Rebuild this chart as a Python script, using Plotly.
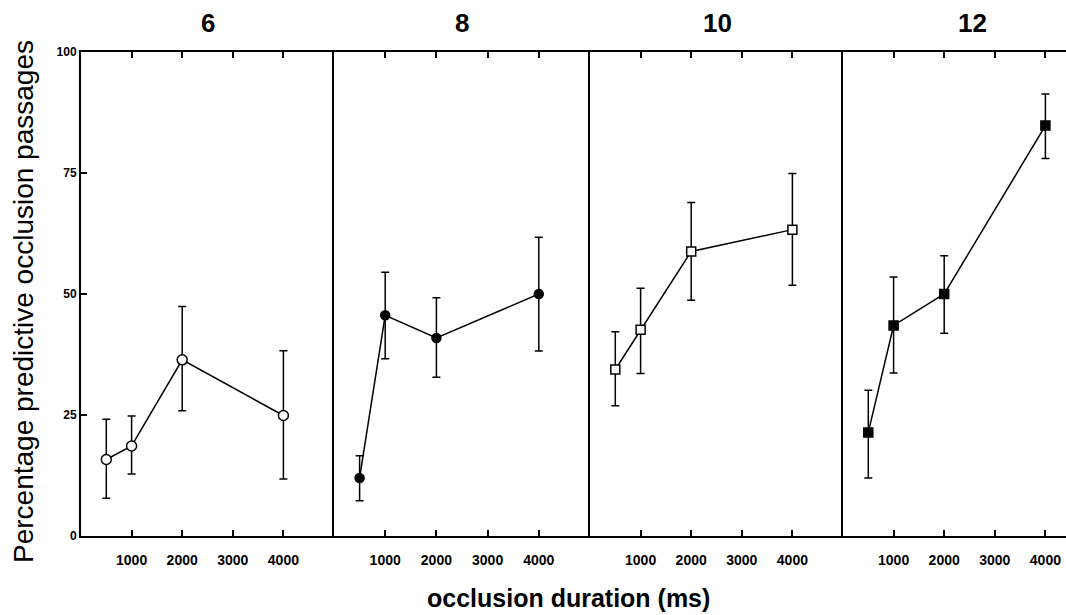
import plotly.graph_objects as go

# ---- data ----
panel_titles = ["6", "8", "10", "12"]
durations = [500, 1000, 2000, 4000]
x_tick_vals = [1000, 2000, 3000, 4000]
x_tick_text = ["1000", "2000", "3000", "4000"]
y_tick_vals = [0, 25, 50, 75, 100]
y_tick_text = ["0", "25", "50", "75", "100"]

mean_6 = [15.8, 18.6, 36.4, 24.9]
hi_6 = [24.1, 24.8, 47.4, 38.3]
lo_6 = [7.8, 12.8, 25.9, 11.8]

mean_8 = [12.0, 45.6, 40.9, 50.0]
hi_8 = [16.6, 54.5, 49.2, 61.7]
lo_8 = [7.3, 36.6, 32.8, 38.2]

mean_10 = [34.4, 42.6, 58.8, 63.3]
hi_10 = [42.2, 51.2, 68.9, 74.9]
lo_10 = [26.9, 33.6, 48.7, 51.8]

mean_12 = [21.4, 43.5, 50.0, 84.8]
hi_12 = [30.1, 53.5, 57.9, 91.3]
lo_12 = [12.0, 33.7, 41.9, 78.0]

series = [
    (mean_6, hi_6, lo_6, "circle", "white", 10),
    (mean_8, hi_8, lo_8, "circle", "black", 9),
    (mean_10, hi_10, lo_10, "square", "white", 9),
    (mean_12, hi_12, lo_12, "square", "black", 9),
]

W, H = 1066, 615
ML, MR, MT, MB = 81, 0, 52, 615 - 536
PW = W - ML - MR
PH = H - MT - MB

# panel pixel edges
edges = [81, 334, 590, 843, 1066]
x_ranges = [[0, 5000], [0, 5000], [0, 5000], [0, 4407]]
title_px = [208, 462, 717, 972]


def px_x(px):
    return (px - ML) / PW


def px_y(py):
    return (536 - py) / PH


FONT = "Arial, Liberation Sans, sans-serif"

fig = go.Figure()
layout = dict(
    width=W, height=H,
    margin=dict(l=ML, r=MR, t=MT, b=MB, pad=0),
    paper_bgcolor="white", plot_bgcolor="white",
    showlegend=False,
    font=dict(family=FONT, color="black"),
)

annotations = []
for i, (m, hi, lo, sym, fill, size) in enumerate(series):
    k = "" if i == 0 else str(i + 1)
    up = [h - v for h, v in zip(hi, m)]
    dn = [v - l for v, l in zip(m, lo)]
    fig.add_trace(go.Scatter(
        x=durations, y=m, mode="lines+markers",
        xaxis="x" + k, yaxis="y" + k,
        line=dict(color="black", width=1.5),
        marker=dict(symbol=sym, size=size, color=fill,
                    line=dict(color="black", width=1.5)),
        error_y=dict(type="data", symmetric=False, array=up, arrayminus=dn,
                     color="black", thickness=1.5, width=4),
        cliponaxis=False,
    ))
    d0 = px_x(edges[i])
    d1 = px_x(edges[i + 1])
    layout["xaxis" + k] = dict(
        domain=[d0, min(d1, 1)], range=x_ranges[i], anchor="y" + k,
        showgrid=False, zeroline=False,
        showline=True, linecolor="black", linewidth=2,
        mirror="ticks", ticks="inside", ticklen=6, tickwidth=1.5,
        tickcolor="black",
        tickvals=x_tick_vals, ticktext=x_tick_text,
        tickfont=dict(family=FONT, size=14, color="black", weight="bold"),
        ticklabelstandoff=10,
    )
    ydict = dict(
        domain=[0, 1], range=[0, 100], anchor="x" + k,
        showgrid=False, zeroline=False,
        showline=True, linecolor="black", linewidth=2,
        mirror=False,
    )
    if i == 0:
        ydict.update(ticks="inside", ticklen=6, tickwidth=1.5, tickcolor="black",
                     tickvals=y_tick_vals, ticktext=y_tick_text,
                     tickfont=dict(family=FONT, size=12, color="black", weight="bold"))
    else:
        ydict.update(showticklabels=False, ticks="")
    layout["yaxis" + k] = ydict

    annotations.append(dict(
        text=panel_titles[i], xref="paper", yref="paper",
        x=px_x(title_px[i]), y=px_y(23),
        showarrow=False, xanchor="center", yanchor="middle",
        font=dict(family=FONT, size=26, color="black", weight="bold"),
    ))

annotations.append(dict(
    text="Percentage predictive occlusion passages", xref="paper", yref="paper",
    x=px_x(23), y=px_y(302), textangle=-90,
    showarrow=False, xanchor="center", yanchor="middle",
    font=dict(family=FONT, size=28, color="black"),
))
annotations.append(dict(
    text="occlusion duration (ms)", xref="paper", yref="paper",
    x=px_x(568), y=px_y(598),
    showarrow=False, xanchor="center", yanchor="middle",
    font=dict(family=FONT, size=25, color="black", weight="bold"),
))
layout["annotations"] = annotations

fig.update_layout(**layout)
fig.write_html(
    "out.html",
    config={"displayModeBar": False},
    post_script="document.body.style.margin='0';document.body.style.overflow='hidden';",
)
